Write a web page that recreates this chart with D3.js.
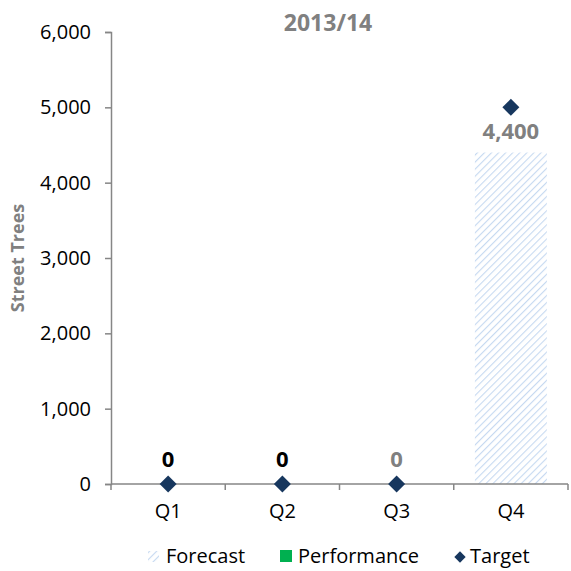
<!DOCTYPE html>
<html><head><meta charset="utf-8">
<script src="https://cdn.jsdelivr.net/npm/d3@7"></script>
<style>body{margin:0;background:#fff}svg{display:block}text{font-family:"Open Sans","Noto Sans",sans-serif}</style>
</head><body><svg id="c" width="571" height="571"></svg>
<script>
const categories = ["Q1","Q2","Q3","Q4"];
const forecast = [null,null,null,4400];
const performance = [0,0,null,null];
const target = [0,0,0,5000];
const labels = ["0","0","0","4,400"];
const labelColors = ["#000","#000","#808080","#808080"];
const yTicks = [0,1000,2000,3000,4000,5000,6000];

const svg = d3.select("#c");
const x = d3.scaleBand().domain(categories).range([111,568]).paddingInner(0.37).paddingOuter(0.185);
const xc = d3.scaleBand().domain(categories).range([111,568]);
const y = d3.scaleLinear().domain([0,6000]).range([484,32]);

const defs = svg.append("defs");
const pat = defs.append("pattern").attr("id","hatch").attr("patternUnits","userSpaceOnUse")
  .attr("width",5).attr("height",5).attr("patternTransform","rotate(45)");
pat.append("rect").attr("width",5).attr("height",5).attr("fill","#fff");
pat.append("line").attr("x1",0).attr("y1",0).attr("x2",0).attr("y2",5).attr("stroke","#c6d9f1").attr("stroke-width",2.2);

// bars
categories.forEach((c,i)=>{
  if(forecast[i]!=null){
    svg.append("rect").attr("x",x(c)).attr("width",x.bandwidth())
      .attr("y",y(forecast[i])).attr("height",y(0)-y(forecast[i])).attr("fill","url(#hatch)");
  }
});

// y axis
const ya = svg.append("g").attr("transform","translate(111,0)")
  .call(d3.axisLeft(y).tickValues(yTicks).tickFormat(d3.format(",")).tickSize(6).tickPadding(14));
ya.select(".domain").attr("stroke","#868686").attr("stroke-width",1.5);
ya.selectAll(".tick line").attr("stroke","#868686").attr("stroke-width",1.5);
ya.selectAll(".tick text").attr("font-size",20).attr("fill","#000");

// x axis
const xa = svg.append("g").attr("transform","translate(0,484)");
xa.append("line").attr("x1",111).attr("x2",568).attr("stroke","#868686").attr("stroke-width",1.5);
[...categories.map(c=>xc(c)), 568].forEach(v=>{
  xa.append("line").attr("x1",v).attr("x2",v).attr("y1",0).attr("y2",6).attr("stroke","#868686").attr("stroke-width",1.5);
});
categories.forEach(c=>{
  xa.append("text").attr("x",xc(c)+xc.bandwidth()/2).attr("y",34).attr("text-anchor","middle")
    .attr("font-size",20).attr("fill","#000").text(c);
});

// target diamonds
categories.forEach((c,i)=>{
  svg.append("rect").attr("x",-6).attr("y",-6).attr("width",12).attr("height",12)
    .attr("transform",`translate(${xc(c)+xc.bandwidth()/2},${y(target[i])}) rotate(45)`)
    .attr("fill","#17375e");
});

// labels
categories.forEach((c,i)=>{
  const v = forecast[i]!=null ? forecast[i] : 0;
  svg.append("text").attr("x",xc(c)+xc.bandwidth()/2)
    .attr("y", forecast[i]!=null ? y(v)-14 : y(v)-17)
    .attr("text-anchor","middle").attr("font-size",22).attr("font-weight","bold")
    .attr("fill",labelColors[i]).text(labels[i]);
});

// title
svg.append("text").attr("x",328).attr("y",31).attr("text-anchor","middle")
  .attr("font-size",23).attr("font-weight","bold").attr("fill","#808080").text("2013/14");

// y title
svg.append("text").attr("transform","translate(24,258) rotate(-90)").attr("text-anchor","middle")
  .attr("font-size",18).attr("font-weight","bold").attr("fill","#808080").text("Street Trees");

// legend
const lg = svg.append("g");
lg.append("rect").attr("x",148).attr("y",551).attr("width",11).attr("height",11).attr("fill","url(#hatch)");
lg.append("text").attr("x",166).attr("y",563).attr("font-size",20).text("Forecast");
lg.append("rect").attr("x",280).attr("y",550).attr("width",12).attr("height",12).attr("fill","#00b050");
lg.append("text").attr("x",298).attr("y",563).attr("font-size",20).text("Performance");
lg.append("rect").attr("x",-4).attr("y",-4).attr("width",8).attr("height",8)
  .attr("transform","translate(460,557) rotate(45)").attr("fill","#17375e");
lg.append("text").attr("x",470).attr("y",563).attr("font-size",20).text("Target");
</script></body></html>
